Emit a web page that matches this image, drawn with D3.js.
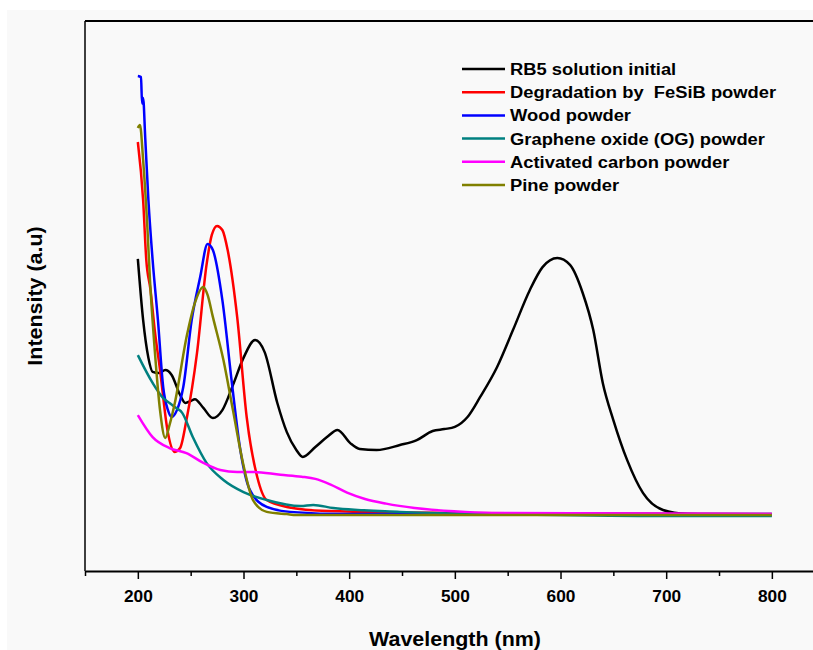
<!DOCTYPE html>
<html>
<head>
<meta charset="utf-8">
<script src="https://cdn.jsdelivr.net/npm/d3@7"></script>
<style>
  html, body { margin: 0; padding: 0; background: #fff; }
  svg { display: block; font-family: "Liberation Sans", Arial, sans-serif; }
</style>
</head>
<body>
<div id="chart"></div>
<script>
// UV-Vis spectra, values (arbitrary intensity units)
const xTicks = [200, 300, 400, 500, 600, 700, 800];
const seriesNames = [
  'RB5 solution initial',
  'Degradation by  FeSiB powder',
  'Wood powder',
  'Graphene oxide (OG) powder',
  'Activated carbon powder',
  'Pine powder'
];
const seriesColors = ['#000000', '#ff0000', '#0000ff', '#008080', '#ff00ff', '#808000'];

const rb5 = [
  [200, 1.135], [205, 0.913], [210, 0.775], [214, 0.724], [220, 0.72], [226, 0.731],
  [232, 0.713], [240, 0.64], [245, 0.611], [250, 0.618], [254, 0.625], [262, 0.593],
  [271, 0.556], [280, 0.585], [290, 0.676], [300, 0.775], [311, 0.84], [320, 0.796],
  [332, 0.611], [341, 0.505], [350, 0.44], [356, 0.415], [368, 0.451], [379, 0.487],
  [389, 0.513], [401, 0.465], [410, 0.444], [426, 0.44], [448, 0.458], [464, 0.476],
  [479, 0.509], [490, 0.516], [500, 0.524], [512, 0.56], [524, 0.633], [540, 0.742],
  [555, 0.876], [571, 1.022], [583, 1.105], [597, 1.138], [609, 1.113], [621, 1.011],
  [631, 0.876], [640, 0.684], [650, 0.549], [663, 0.404], [678, 0.284], [697, 0.222],
  [720, 0.207], [760, 0.204], [800, 0.204]
];
const fesib = [
  [200, 1.56], [205, 1.349], [208, 1.131], [212, 1.022], [216, 0.876], [221, 0.731],
  [228, 0.513], [235, 0.433], [240, 0.447], [246, 0.549], [256, 0.793], [265, 1.113],
  [270, 1.222], [275, 1.255], [280, 1.24], [285, 1.167], [294, 0.924], [303, 0.56],
  [313, 0.342], [322, 0.258], [341, 0.233], [380, 0.218], [500, 0.211], [800, 0.207]
];
const wood = [
  [200, 1.80], [203, 1.796], [204, 1.70], [205, 1.72], [207, 1.575], [210, 1.349],
  [214, 1.131], [219, 0.913], [224, 0.669], [228.5, 0.585], [232, 0.56], [237, 0.585],
  [243, 0.669], [251, 0.913], [259, 1.069], [266, 1.189], [271, 1.167], [280, 0.985],
  [289, 0.684], [297, 0.44], [306, 0.295], [322, 0.233], [344, 0.215], [400, 0.207],
  [800, 0.207]
];
const grapheneOxide = [
  [200, 0.785], [214, 0.684], [224, 0.629], [230, 0.611], [235, 0.596], [242, 0.575],
  [252, 0.487], [265, 0.393], [281, 0.331], [300, 0.287], [322, 0.258], [354, 0.236],
  [366, 0.24], [385, 0.229], [448, 0.215], [543, 0.207], [685, 0.2], [800, 0.2]
];
const activatedCarbon = [
  [200, 0.567], [214, 0.487], [230, 0.447], [246, 0.429], [262, 0.393], [278, 0.367],
  [294, 0.36], [309, 0.36], [335, 0.35], [355, 0.343], [368, 0.335], [382, 0.315],
  [398, 0.285], [415, 0.262], [435, 0.245], [462, 0.229], [510, 0.215], [542, 0.211],
  [800, 0.207]
];
const pine = [
  [200, 1.611], [202, 1.622], [205, 1.495], [209, 1.251], [211.5, 1.058], [216, 0.804],
  [221, 0.585], [226, 0.484], [230, 0.531], [235, 0.611], [246.5, 0.858], [254, 0.975],
  [262, 1.033], [266, 1.004], [271, 0.924], [281, 0.767], [290, 0.585], [299.5, 0.393],
  [309, 0.258], [322, 0.215], [341, 0.207], [350, 0.204], [800, 0.204]
];
const allSeries = [rb5, fesib, wood, grapheneOxide, activatedCarbon, pine];

const W = 813, H = 650;
const M = { left: 85, top: 21, bottom: 79 };
const innerH = H - M.top - M.bottom;
const STRETCH = 1.08; // reference lettering runs a bit wider than Liberation Sans

const svg = d3.select('#chart').append('svg').attr('width', W).attr('height', H);
svg.append('rect').attr('x', 7).attr('y', 10).attr('width', W - 7).attr('height', H - 10)
  .attr('fill', '#f9f9f9');

const x = d3.scaleLinear().domain([150, 850]).range([M.left, M.left + 700 * 1.0567]);
const y = d3.scaleLinear().domain([0, 2]).range([M.top + innerH, M.top]);

// frame: top and left lines (right side runs off the picture)
svg.append('line').attr('x1', M.left).attr('x2', W).attr('y1', M.top).attr('y2', M.top)
  .attr('stroke', '#000').attr('stroke-width', 2);
svg.append('line').attr('x1', M.left).attr('x2', M.left).attr('y1', M.top).attr('y2', M.top + innerH)
  .attr('stroke', '#000').attr('stroke-width', 1.5);

// bottom axis — major ticks with labels, minor ticks between
const axisG = svg.append('g').attr('transform', `translate(0,${M.top + innerH})`);
axisG.call(d3.axisBottom(x).tickValues(d3.range(150, 851, 50)).tickSize(6).tickSizeOuter(0)
  .tickFormat((d) => (xTicks.includes(d) ? d : '')))
  .call((g) => {
    g.select('.domain').attr('stroke-width', 2);
    g.selectAll('.tick line').attr('stroke-width', 1.5)
      .attr('y2', (d) => (xTicks.includes(d) ? 8 : 5));
    g.selectAll('.tick text').attr('y', 0).attr('dy', 0)
      .attr('transform', `translate(0,31) scale(${STRETCH},1)`)
      .attr('font-size', 16).attr('font-weight', 'bold')
      .attr('font-family', '"Liberation Sans", Arial, sans-serif').attr('fill', '#000');
  });

svg.append('text').attr('transform', `translate(455,646) scale(${STRETCH + 0.02},1)`)
  .attr('text-anchor', 'middle')
  .attr('font-size', 19.5).attr('font-weight', 'bold').text('Wavelength (nm)');
svg.append('text').attr('transform', `translate(42,296) rotate(-90) scale(${STRETCH + 0.02},1)`)
  .attr('text-anchor', 'middle')
  .attr('font-size', 19.5).attr('font-weight', 'bold').text('Intensity (a.u)');

// spectra
const line = d3.line().x((p) => x(p[0])).y((p) => y(p[1])).curve(d3.curveMonotoneX);
allSeries.forEach((s, i) => {
  svg.append('path').datum(s).attr('fill', 'none').attr('stroke', seriesColors[i])
    .attr('stroke-width', 2.5).attr('stroke-linejoin', 'round').attr('d', line);
});

// legend
const leg = svg.append('g');
seriesNames.forEach((name, i) => {
  const ly = 69 + i * 23.2;
  leg.append('line').attr('x1', 462).attr('x2', 505).attr('y1', ly).attr('y2', ly)
    .attr('stroke', seriesColors[i]).attr('stroke-width', 2.5);
  leg.append('text').attr('transform', `translate(510,${ly + 6}) scale(${STRETCH},1)`)
    .attr('font-size', 17)
    .attr('font-weight', 'bold').attr('xml:space', 'preserve').style('white-space', 'pre')
    .text(name);
});
</script>
</body>
</html>
